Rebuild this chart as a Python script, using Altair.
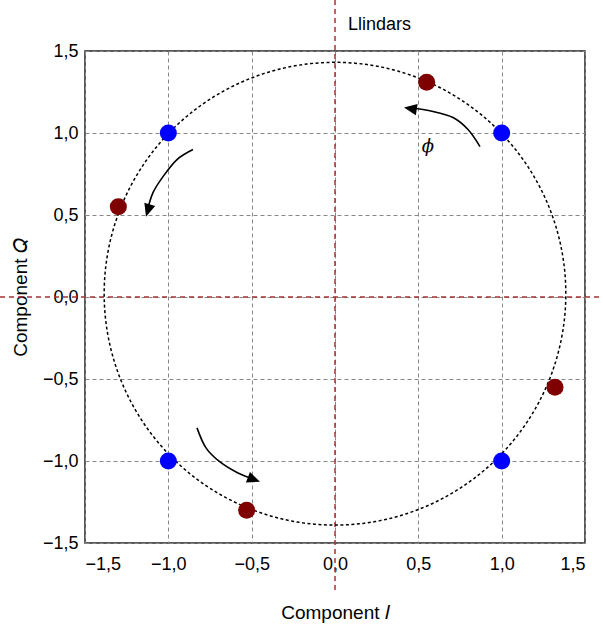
import numpy as np
import pandas as pd
import altair as alt

# --- data ---
blue_i = [1.0, -1.0, -1.0, 1.0]
blue_q = [1.0, 1.0, -1.0, -1.0]
red_i = [0.55, -1.30, -0.53, 1.32]
red_q = [1.31, 0.55, -1.30, -0.55]
ticks = [-1.5, -1.0, -0.5, 0.0, 0.5, 1.0, 1.5]

# dotted reference circle
circle_rx = 1.385
circle_ry = 1.411
circle_cq = 0.02

# arrow paths (I, Q)
arrow_a_i = [0.870, 0.798, 0.708, 0.588, 0.438]
arrow_a_q = [0.917, 1.021, 1.094, 1.131, 1.155]
arrow_b_i = [-0.852, -0.948, -1.032, -1.092, -1.128]
arrow_b_q = [0.899, 0.838, 0.734, 0.636, 0.520]
arrow_c_i = [-0.828, -0.774, -0.690, -0.582, -0.474]
arrow_c_q = [-0.798, -0.920, -1.006, -1.073, -1.115]
head_i = [0.414, -1.134, -0.450]
head_q = [1.155, 0.490, -1.127]
head_angle = [279, 197, 111]

label_text = ["Llindars", "ϕ"]
label_i = [0.078, 0.558]
label_q = [1.631, 0.917]

# --- tables ---
blue = pd.DataFrame({"I": blue_i, "Q": blue_q})
red = pd.DataFrame({"I": red_i, "Q": red_q})
theta = np.linspace(0, 2 * np.pi, 361)
circle = pd.DataFrame({"I": circle_rx * np.cos(theta),
                       "Q": circle_cq + circle_ry * np.sin(theta),
                       "o": np.arange(361)})
arrows = pd.concat([
    pd.DataFrame({"id": "a", "I": arrow_a_i, "Q": arrow_a_q, "o": range(5)}),
    pd.DataFrame({"id": "b", "I": arrow_b_i, "Q": arrow_b_q, "o": range(5)}),
    pd.DataFrame({"id": "c", "I": arrow_c_i, "Q": arrow_c_q, "o": range(5)}),
])
heads = pd.DataFrame({"I": head_i, "Q": head_q, "a": head_angle})
labels = pd.DataFrame({"t": label_text, "I": label_i, "Q": label_q})

lab_expr = "replace(replace(format(datum.value, '.1f'), '.', ','), '-', '\u2212')"
xs = alt.Scale(domain=[-1.5, 1.5], nice=False, zero=False)
ys = alt.Scale(domain=[-1.5, 1.5], nice=False, zero=False)
xaxis = alt.Axis(values=ticks, labelExpr=lab_expr, title="Component 𝐼", grid=True)
yaxis = alt.Axis(values=ticks, labelExpr=lab_expr, title="Component 𝑄", grid=True)

base_x = alt.X("I:Q", scale=xs, axis=xaxis)
base_y = alt.Y("Q:Q", scale=ys, axis=yaxis)

grid = alt.Chart(blue).mark_point(opacity=0).encode(x=base_x, y=base_y)

vline = alt.Chart(pd.DataFrame({"v": [0.0]})).mark_rule(
    color="#a83232", strokeDash=[5, 4], strokeWidth=1.5, clip=False
).encode(x=alt.X("v:Q", scale=xs), y=alt.value(-51), y2=alt.value(541))

hline = alt.Chart(pd.DataFrame({"v": [0.0]})).mark_rule(
    color="#a83232", strokeDash=[5, 4], strokeWidth=1.5, clip=False
).encode(y=alt.Y("v:Q", scale=ys), x=alt.value(-85), x2=alt.value(518))

circ = alt.Chart(circle).mark_line(
    color="black", strokeDash=[3, 2.5], strokeWidth=1.5
).encode(x=alt.X("I:Q", scale=xs), y=alt.Y("Q:Q", scale=ys), order="o:Q")

arr = alt.Chart(arrows).mark_line(
    color="black", strokeWidth=1.6, interpolate="cardinal"
).encode(x=alt.X("I:Q", scale=xs), y=alt.Y("Q:Q", scale=ys), detail="id:N", order="o:Q")

hd = alt.Chart(heads).mark_point(
    shape="M0,0L0.7,1.6L-0.7,1.6Z", filled=True, color="black", opacity=1, size=260
).encode(x=alt.X("I:Q", scale=xs), y=alt.Y("Q:Q", scale=ys), angle=alt.Angle("a:Q", scale=None))

bp = alt.Chart(blue).mark_circle(color="#0000ff", opacity=1, size=290).encode(
    x=alt.X("I:Q", scale=xs), y=alt.Y("Q:Q", scale=ys))
rp = alt.Chart(red).mark_circle(color="#7f0000", opacity=1, size=290).encode(
    x=alt.X("I:Q", scale=xs), y=alt.Y("Q:Q", scale=ys))

t1 = alt.Chart(labels.iloc[[0]]).mark_text(
    align="left", baseline="alphabetic", fontSize=18, font="Liberation Sans", color="black"
).encode(x=alt.X("I:Q", scale=xs), y=alt.Y("Q:Q", scale=ys), text="t:N")
t2 = alt.Chart(labels.iloc[[1]]).mark_text(
    align="center", baseline="middle", fontSize=18, font="DejaVu Serif", fontStyle="italic", color="black"
).encode(x=alt.X("I:Q", scale=xs), y=alt.Y("Q:Q", scale=ys), text="t:N")

chart = alt.layer(grid, vline, hline, circ, arr, hd, bp, rp, t1, t2).properties(
    width=500, height=492,
    autosize=alt.AutoSizeParams(type="none"),
    padding={"left": 85, "top": 51, "right": 18, "bottom": 81},
).configure_view(
    stroke="#222222", strokeWidth=1.5
).configure_axis(
    domain=False, ticks=False,
    gridColor="#888888", gridDash=[4, 3], gridWidth=1, gridOpacity=1,
    labelFont="Liberation Sans", labelFontSize=18, labelColor="black",
    titleFont="Liberation Sans", titleFontSize=19, titleColor="black", titleFontWeight="normal",
).configure_axisX(labelPadding=12, titlePadding=30).configure_axisY(labelPadding=7, titlePadding=12)

chart.save("out.html", embed_options={"renderer": "svg", "actions": False})
